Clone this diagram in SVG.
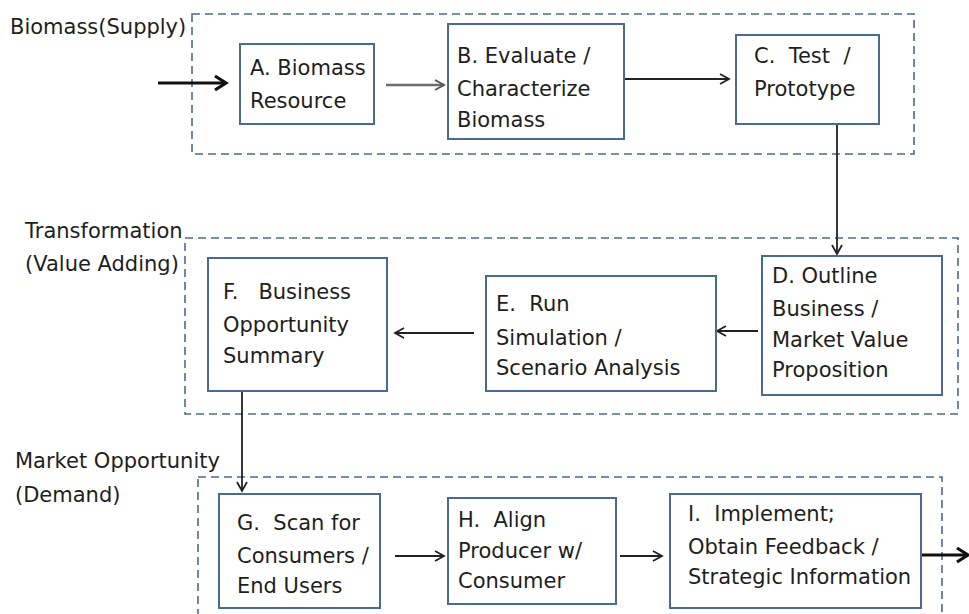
<svg xmlns="http://www.w3.org/2000/svg" width="969" height="614" viewBox="0 0 969 614">
<style>
text{font-family:"DejaVu Sans","Liberation Sans",sans-serif;font-size:21px;fill:#1e1e1e;white-space:pre}
.grp{fill:none;stroke:#4a6a96;stroke-width:1.6;stroke-dasharray:8 5}
.box{fill:#fff;stroke:#4a6a96;stroke-width:2}
.c{fill:none;stroke:#222;stroke-width:1.8}
.g{fill:none;stroke:#6e6e6e;stroke-width:2.4}
.t{fill:none;stroke:#111;stroke-width:3.2}
</style>
<defs>
<marker id="ah" markerUnits="userSpaceOnUse" markerWidth="14" markerHeight="14" viewBox="0 0 14 14" refX="12" refY="7" orient="auto">
<path d="M3,2 L12,7 L3,12" fill="none" stroke="#222" stroke-width="1.8"/>
</marker>
<marker id="ahg" markerUnits="userSpaceOnUse" markerWidth="14" markerHeight="14" viewBox="0 0 14 14" refX="12" refY="7" orient="auto">
<path d="M3,2 L12,7 L3,12" fill="none" stroke="#555" stroke-width="2"/>
</marker>
<marker id="aht" markerUnits="userSpaceOnUse" markerWidth="18" markerHeight="18" viewBox="0 0 18 18" refX="15" refY="9" orient="auto">
<path d="M4,2 L15,9 L4,16" fill="none" stroke="#111" stroke-width="3.2"/>
</marker>
</defs>

<g id="group-supply">
<rect class="grp" x="192" y="14" width="722" height="140"/>
<text x="10" y="34">Biomass(Supply)</text>
</g>
<g id="group-transformation">
<rect class="grp" x="185" y="238" width="773" height="176"/>
<text x="25" y="238">Transformation</text>
<text x="25" y="271">(Value Adding)</text>
</g>
<g id="group-market">
<rect class="grp" x="198" y="477" width="744" height="145"/>
<text x="15" y="468">Market Opportunity</text>
<text x="15" y="502">(Demand)</text>
</g>

<g id="connectors">
<line class="t" x1="158" y1="83" x2="226" y2="83" marker-end="url(#aht)"/>
<line class="g" x1="386" y1="85" x2="444" y2="85" marker-end="url(#ahg)"/>
<line class="c" x1="624" y1="79" x2="729" y2="79" marker-end="url(#ah)"/>
<line class="c" x1="837" y1="124" x2="837" y2="254" marker-end="url(#ah)"/>
<line class="c" x1="758" y1="331" x2="717" y2="331" marker-end="url(#ah)"/>
<line class="c" x1="474" y1="333" x2="395" y2="333" marker-end="url(#ah)"/>
<line class="c" x1="242" y1="391" x2="242" y2="491" marker-end="url(#ah)"/>
<line class="c" x1="395" y1="556" x2="444" y2="556" marker-end="url(#ah)"/>
<line class="c" x1="620" y1="556" x2="662" y2="556" marker-end="url(#ah)"/>
<line class="t" x1="921" y1="555" x2="968" y2="555" marker-end="url(#aht)"/>
</g>

<g id="node-a">
<rect class="box" x="240" y="44" width="134" height="80"/>
<text x="250" y="75">A. Biomass</text>
<text x="250" y="108">Resource</text>
</g>
<g id="node-b">
<rect class="box" x="448" y="24" width="176" height="115"/>
<text x="457" y="63">B. Evaluate /</text>
<text x="457" y="96">Characterize</text>
<text x="457" y="127">Biomass</text>
</g>
<g id="node-c">
<rect class="box" x="736" y="35" width="143" height="89"/>
<text x="754" y="63">C.  Test  /</text>
<text x="754" y="96">Prototype</text>
</g>
<g id="node-d">
<rect class="box" x="762" y="256" width="180" height="139"/>
<text x="772" y="283">D. Outline</text>
<text x="772" y="316">Business /</text>
<text x="772" y="347">Market Value</text>
<text x="772" y="377">Proposition</text>
</g>
<g id="node-e">
<rect class="box" x="486" y="276" width="230" height="115"/>
<text x="496" y="311">E.  Run</text>
<text x="496" y="345">Simulation /</text>
<text x="496" y="375">Scenario Analysis</text>
</g>
<g id="node-f">
<rect class="box" x="208" y="258" width="179" height="133"/>
<text x="223" y="299">F.   Business</text>
<text x="223" y="332">Opportunity</text>
<text x="223" y="363">Summary</text>
</g>
<g id="node-g">
<rect class="box" x="219" y="494" width="161" height="114"/>
<text x="237" y="530">G.  Scan for</text>
<text x="237" y="563">Consumers /</text>
<text x="237" y="593">End Users</text>
</g>
<g id="node-h">
<rect class="box" x="448" y="498" width="168" height="106"/>
<text x="458" y="527">H.  Align</text>
<text x="458" y="558">Producer w/</text>
<text x="458" y="588">Consumer</text>
</g>
<g id="node-i">
<rect class="box" x="670" y="494" width="251" height="114"/>
<text x="688" y="521">I.  Implement;</text>
<text x="688" y="554">Obtain Feedback /</text>
<text x="688" y="584">Strategic Information</text>
</g>
</svg>
